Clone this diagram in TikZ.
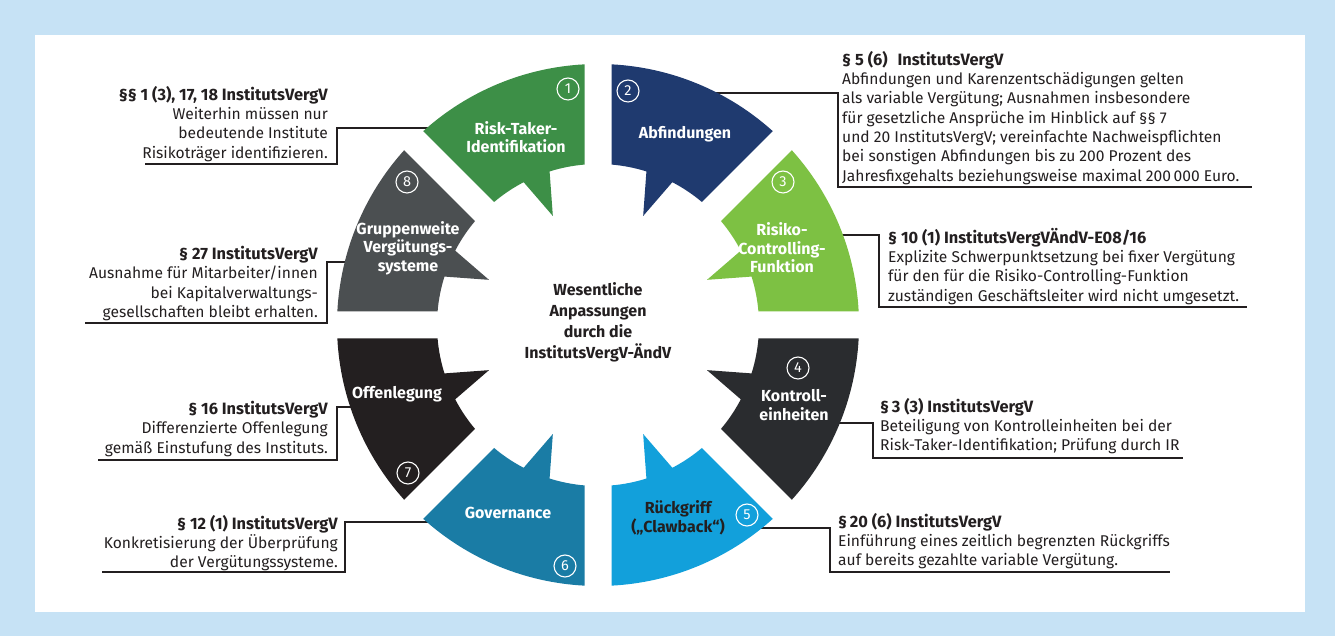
\documentclass[tikz,border=0pt]{standalone}
\usepackage{fontspec}
\setmainfont{Fira Sans}
\definecolor{frameblue}{HTML}{C6E2F5}
\definecolor{ink}{HTML}{231F20}
\definecolor{segA}{HTML}{3D8F47}
\definecolor{segB}{HTML}{1F3A6F}
\definecolor{segC}{HTML}{7DC143}
\definecolor{segD}{HTML}{2A2C2F}
\definecolor{segE}{HTML}{12A0DB}
\definecolor{segF}{HTML}{1A7CA5}
\definecolor{segG}{HTML}{231F20}
\definecolor{segH}{HTML}{4B4F51}
\newcommand{\headline}[1]{{\bfseries\fontsize{16.4}{19.3}\selectfont #1}}
\begin{document}
\begin{tikzpicture}[x=1pt,y=1pt,
  seglabel/.style={font=\bfseries\fontsize{16}{18.5}\selectfont, text=white, align=center, inner sep=0pt},
  numring/.style={circle, draw=white, line width=1.1pt, minimum size=22pt, inner sep=0pt, text=white, font=\fontsize{14.5}{14.5}\selectfont},
  note/.style={font=\fontsize{15.6}{19.3}\selectfont, text=ink, inner sep=0pt},
  link/.style={draw=ink, line width=1.25pt},
  hubtext/.style={font=\bfseries\fontsize{16}{21}\selectfont, text=ink, align=center, inner sep=0pt}
]
% frame
\fill[frameblue] (0,0) rectangle (1335,636);
\fill[white] (35,24) rectangle (1305,601);
\useasboundingbox (0,0) rectangle (1335,636);

% everything placed in page coordinates (y downwards)
\begin{scope}[shift={(0,636)}, yscale=-1]
  % connector points
  \coordinate (s1) at (434,128); \coordinate (k1) at (337,128); \coordinate (b1) at (337,164); \coordinate (e1) at (145,164);
  \coordinate (s8) at (352,262); \coordinate (k8) at (327,262); \coordinate (b8) at (327,323); \coordinate (e8) at (85,323);
  \coordinate (s7) at (352,407); \coordinate (k7) at (337,407); \coordinate (b7) at (337,460); \coordinate (e7) at (98,460);
  \coordinate (s6) at (432,522); \coordinate (k6) at (345,522); \coordinate (b6) at (345,572); \coordinate (e6) at (102,572);
  \coordinate (s2) at (714,93);  \coordinate (k2) at (838,93);  \coordinate (b2) at (838,187); \coordinate (e2) at (1252,187);
  \coordinate (s3) at (840,235); \coordinate (k3) at (879,235); \coordinate (b3) at (879,307); \coordinate (e3) at (1247,307);
  \coordinate (s4) at (838,423); \coordinate (k4) at (873,423); \coordinate (b4) at (873,458); \coordinate (e4) at (1183,458);
  \coordinate (s5) at (760,528); \coordinate (k5) at (830,528); \coordinate (b5) at (830,572); \coordinate (e5) at (1170,572);
\end{scope}

% bracket connectors
\foreach \i in {1,...,8} {
  \draw[link] (s\i) -- (k\i) -- (b\i) -- (e\i);
}

% ring of eight speech-bubble segments
\begin{scope}[shift={(598,311)}]
  \foreach \a/\c in {90/segA,45/segB,0/segC,-45/segD,-90/segE,-135/segF,180/segG,135/segH} {
    \pgfmathsetmacro\segOa{\a+2.965}
    \pgfmathsetmacro\segOb{\a+45-2.965}
    \pgfmathsetmacro\segIa{\a+4.81}
    \pgfmathsetmacro\segIb{\a+45-4.81}
    \pgfmathsetmacro\segTip{\a+22.5}
    \pgfmathsetmacro\segPa{\a+22.5+5}
    \pgfmathsetmacro\segPb{\a+22.5-5}
    \fill[\c] (\segOa:261) arc[start angle=\segOa, end angle=\segOb, radius=261]
      -- (\segIb:161) arc[start angle=\segIb, end angle=\segPa, radius=161]
      -- (\segTip:118) -- (\segPb:161)
      arc[start angle=\segPb, end angle=\segIa, radius=161] -- cycle;
  }
\end{scope}

\begin{scope}[shift={(0,636)}, yscale=-1]
  % segment titles
  \node[seglabel] (l1) at (516,137) {Risk-Taker-\\Identifikation};
  \node[seglabel] (l2) at (685,134) {Abfindungen};
  \node[seglabel] (l3) at (782,248) {Risiko-\\Controlling-\\Funktion};
  \node[seglabel] (l4) at (794,405) {Kontroll-\\einheiten};
  \node[seglabel, text=ink] (l5) at (678,518) {Rückgriff\\(„Clawback“)};
  \node[seglabel] (l6) at (508,513) {Governance};
  \node[seglabel] (l7) at (397,394) {Offenlegung};
  \node[seglabel] (l8) at (408,248) {Gruppenweite\\Vergütungs-\\systeme};

  % numbers
  \node[numring] (n1) at (568,89) {1};
  \node[numring] (n2) at (628,91) {2};
  \node[numring] (n3) at (783,182) {3};
  \node[numring] (n4) at (798,368) {4};
  \node[numring] (n5) at (747,515) {5};
  \node[numring] (n6) at (565,566) {6};
  \node[numring] (n7) at (408,473) {7};
  \node[numring] (n8) at (407,182) {8};

  % centre
  \node[hubtext] (hub) at (598,322) {Wesentliche\\Anpassungen\\durch die\\InstitutsVergV-ÄndV};

  % annotations, left side
  \node[note, align=right, anchor=north east] (t1) at (328,86)
    {\headline{§§ 1 (3), 17, 18 InstitutsVergV}\\Weiterhin müssen nur\\bedeutende Institute\\Risikoträger identifizieren.};
  \node[note, align=right, anchor=north east] (t8) at (318,246)
    {\headline{§ 27 InstitutsVergV}\\Ausnahme für Mitarbeiter/innen\\bei Kapitalverwaltungs-\\gesellschaften bleibt erhalten.};
  \node[note, align=right, anchor=north east] (t7) at (328,401)
    {\headline{§ 16 InstitutsVergV}\\Differenzierte Offenlegung\\gemäß Einstufung des Instituts.};
  \node[note, align=right, anchor=north east] (t6) at (338,515)
    {\headline{§ 12 (1) InstitutsVergV}\\Konkretisierung der Überprüfung\\der Vergütungssysteme.};

  % annotations, right side
  \node[note, align=left, anchor=north west] (t2) at (842,51)
    {\headline{§ 5 (6)\hspace{0.6em}InstitutsVergV}\\Abfindungen und Karenzentschädigungen gelten\\als variable Vergütung; Ausnahmen insbesondere\\für gesetzliche Ansprüche im Hinblick auf §§ 7\\und 20 InstitutsVergV; vereinfachte Nachweispflichten\\bei sonstigen Abfindungen bis zu 200 Prozent des\\Jahresfixgehalts beziehungsweise maximal 200\,000 Euro.};
  \node[note, align=left, anchor=north west] (t3) at (888,228)
    {\headline{§ 10 (1) InstitutsVergVÄndV-E08/16}\\Explizite Schwerpunktsetzung bei fixer Vergütung\\für den für die Risiko-Controlling-Funktion\\zuständigen Geschäftsleiter wird nicht umgesetzt.};
  \node[note, align=left, anchor=north west] (t4) at (880,398)
    {\headline{§\,3 (3) InstitutsVergV}\\Beteiligung von Kontrolleinheiten bei der\\Risk-Taker-Identifikation; Prüfung durch IR};
  \node[note, align=left, anchor=north west] (t5) at (838,513)
    {\headline{§\,20 (6) InstitutsVergV}\\Einführung eines zeitlich begrenzten Rückgriffs\\auf bereits gezahlte variable Vergütung.};
\end{scope}
\end{tikzpicture}
\end{document}
